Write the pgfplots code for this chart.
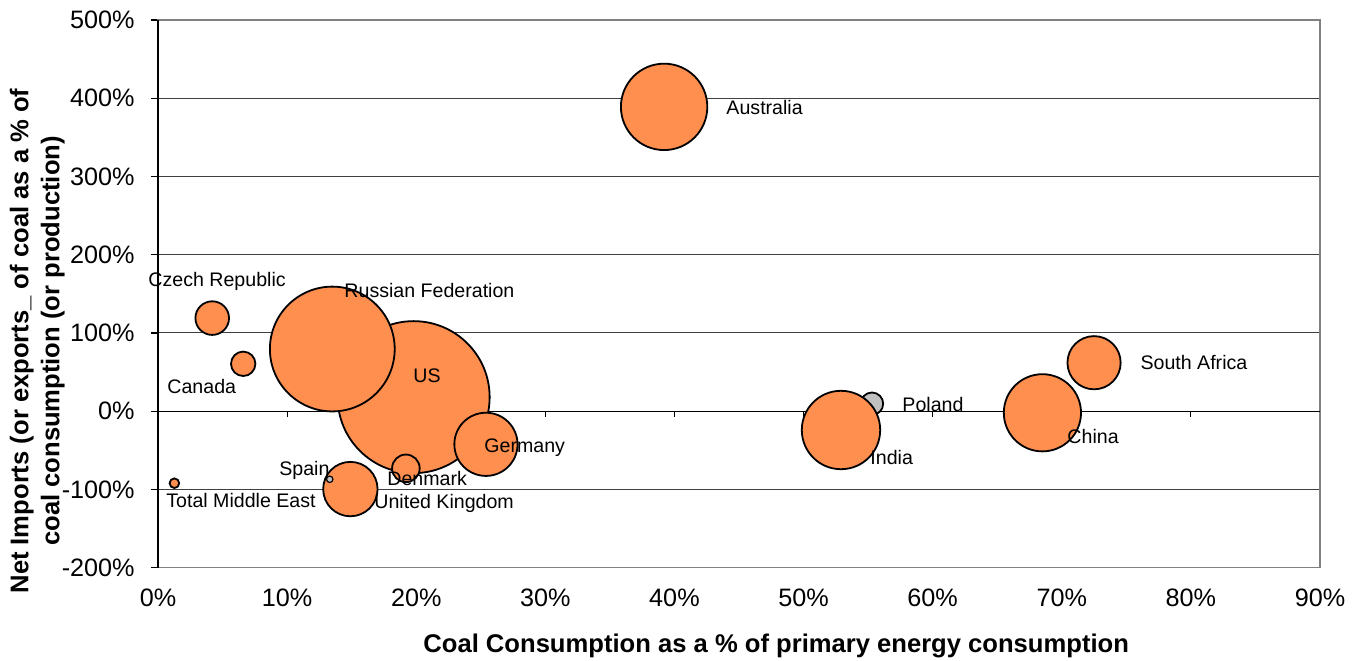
\documentclass[border=0pt]{standalone}
\usepackage{fontspec}
\setmainfont{Liberation Sans}
\usepackage{pgfplots}
\pgfplotsset{compat=1.18}
\definecolor{orng}{HTML}{FF8F4F}
\definecolor{gry}{HTML}{C0C0C0}
\begin{document}
\begin{tikzpicture}
\useasboundingbox (-79pt,-46.15pt) rectangle (600.5pt,283.85pt);
\begin{axis}[
  at={(0,0)}, anchor=south west,
  scale only axis, width=581pt, height=273.85pt,
  xmin=0, xmax=90, ymin=-200, ymax=500,
  xtick={0,10,20,30,40,50,60,70,80,90},
  ytick={-200,-100,0,100,200,300,400,500},
  xticklabels={0\%,10\%,20\%,30\%,40\%,50\%,60\%,70\%,80\%,90\%},
  yticklabels={-200\%,-100\%,0\%,100\%,200\%,300\%,400\%,500\%},
  axis line style={draw=none},
  ymajorgrids, grid style={black!75, line width=0.5pt},
  tick align=outside, major tick length=3.5pt,
  ytick pos=left,
  xtick style={draw=none}, ytick style={black, line width=0.6pt},
  ticklabel style={font=\fontsize{12.6}{14}\selectfont, inner sep=0pt},
  xticklabel shift=6.7pt, yticklabel shift=8pt,
  xlabel={Coal Consumption as a \% of primary energy consumption},
  xlabel style={at={(axis description cs:0.532,-0.1424)}, anchor=center, font=\bfseries\fontsize{12.8}{15}\selectfont},
  ylabel={Net Imports (or exports\_ of coal as a \% of\\coal consumption (or production)},
  ylabel style={at={(axis description cs:-0.104,0.414)}, anchor=center, align=center, font=\bfseries\fontsize{12.8}{15.5}\selectfont},
  clip=false,
]
\draw[gray, line width=0.6pt] (rel axis cs:0,0) rectangle (rel axis cs:1,1);
\draw[black, line width=0.7pt] (rel axis cs:0,0) -- (rel axis cs:0,1);
\draw[black, line width=0.6pt] (axis cs:0,0) -- (axis cs:90,0);
\pgfplotsinvokeforeach{10,20,30,40,50,60,70,80}{\draw[black, line width=0.5pt] (axis cs:#1,0) -- ([yshift=-3pt]axis cs:#1,0);}

% Poland (grey)
\addplot[scatter, only marks, mark=*, point meta=\thisrow{r},
  scatter/use mapped color={draw=black, fill=gry}, mark options={line width=0.9pt},
  visualization depends on={\thisrow{r}\as\rr},
  scatter/@pre marker code/.append style={/tikz/mark size=\rr pt}]
  table {
x y r
55.3 9.6 5.6
};

% orange bubbles, largest first
\addplot[scatter, only marks, mark=*, point meta=\thisrow{r},
  scatter/use mapped color={draw=black, fill=orng}, mark options={line width=0.9pt},
  visualization depends on={\thisrow{r}\as\rr},
  scatter/@pre marker code/.append style={/tikz/mark size=\rr pt}]
  table {
x y r
19.8 18 38.0
13.5 79.5 31.2
39.2 389 21.6
52.9 -24 19.6
68.5 -2 19.3
25.4 -42.3 15.8
14.9 -99.5 13.6
72.5 62 13.3
4.2 119 8.4
19.2 -73 6.9
6.6 60.6 6.1
1.27 -92 2.4
};

% Spain (grey)
\addplot[scatter, only marks, mark=*, point meta=\thisrow{r},
  scatter/use mapped color={draw=black, fill=gry}, mark options={line width=0.6pt},
  visualization depends on={\thisrow{r}\as\rr},
  scatter/@pre marker code/.append style={/tikz/mark size=\rr pt}]
  table {
x y r
13.3 -87 1.6
};

\coordinate (L1) at (axis cs:44.0,388.8);
\coordinate (L2) at (axis cs:76.07,62.9);
\coordinate (L3) at (axis cs:57.63,9.2);
\coordinate (L4) at (axis cs:70.41,-31.9);
\coordinate (L5) at (axis cs:55.15,-58.8);
\coordinate (L6) at (axis cs:25.25,-47.1);
\coordinate (L7) at (axis cs:19.75,45.0);
\coordinate (L8) at (axis cs:14.41,153.9);
\coordinate (L9) at (axis cs:-0.77,166.1);
\coordinate (L10) at (axis cs:0.70,32.2);
\coordinate (L11) at (axis cs:9.37,-75.2);
\coordinate (L12) at (axis cs:17.74,-86.6);
\coordinate (L13) at (axis cs:16.73,-117.3);
\coordinate (L14) at (axis cs:0.62,-113.5);
\end{axis}
\begin{scope}[every node/.style={anchor=west, inner sep=0pt, font=\fontsize{9.8}{11}\selectfont}]
\node at (L1) {Australia};
\node at (L2) {South Africa};
\node at (L3) {Poland};
\node at (L4) {China};
\node at (L5) {India};
\node at (L6) {Germany};
\node at (L7) {US};
\node at (L8) {Russian Federation};
\node at (L9) {Czech Republic};
\node at (L10) {Canada};
\node at (L11) {Spain};
\node at (L12) {Denmark};
\node at (L13) {United Kingdom};
\node at (L14) {Total Middle East};
\end{scope}
\end{tikzpicture}
\end{document}
